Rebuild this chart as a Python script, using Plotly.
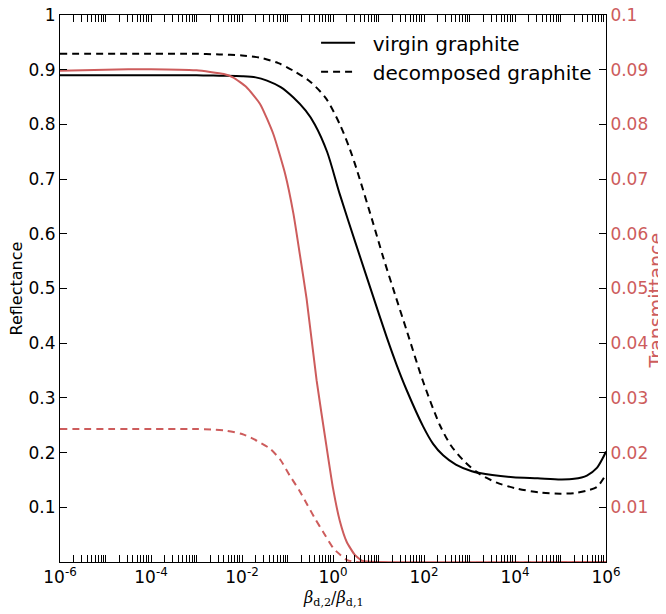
import plotly.graph_objects as go

# ---- data (log10 of beta_d2/beta_d1, values) ----
virgin_R_logx = [-6, -5, -4, -3, -2.5, -2, -1.7, -1.45, -1.15, -0.87, -0.6, -0.4, -0.13, 0.15, 0.5, 0.88,
                 1.18, 1.4, 1.62, 1.98, 2.2, 2.42, 2.7, 3.05, 3.5, 3.96, 4.5, 5.0, 5.3, 5.58, 5.8, 5.93, 6.0]
virgin_R = [0.890, 0.890, 0.890, 0.890, 0.889, 0.888, 0.886, 0.880, 0.868, 0.849, 0.825, 0.800, 0.750, 0.672,
            0.582, 0.486, 0.411, 0.360, 0.314, 0.248, 0.216, 0.195, 0.178, 0.166, 0.159, 0.155, 0.153, 0.151,
            0.152, 0.158, 0.172, 0.190, 0.202]

decomp_R_logx = [-6, -4, -3, -2.5, -2, -1.6, -1.2, -0.87, -0.5, -0.15, 0.15, 0.37, 0.52, 0.88, 1.1, 1.36,
                 1.62, 1.98, 2.35, 2.6, 2.9, 3.2, 3.6, 4.0, 4.55, 5.0, 5.3, 5.6, 5.8, 6.0]
decomp_R = [0.929, 0.929, 0.929, 0.928, 0.926, 0.922, 0.912, 0.898, 0.878, 0.847, 0.800, 0.755, 0.718, 0.620,
            0.558, 0.490, 0.423, 0.330, 0.250, 0.212, 0.183, 0.162, 0.145, 0.135, 0.127, 0.125, 0.126, 0.131,
            0.137, 0.160]

virgin_T_logx = [-6, -5, -4, -3, -2.7, -2.4, -2.2, -1.9, -1.6, -1.31, -1.05, -0.87, -0.73, -0.58, -0.36,
                 -0.15, 0.0, 0.15, 0.3, 0.48, 0.65, 1.0, 6.0]
virgin_T = [0.0898, 0.0900, 0.0901, 0.0899, 0.0896, 0.0892, 0.0886, 0.0868, 0.0837, 0.0782, 0.0709, 0.0637,
            0.0563, 0.0481, 0.0332, 0.0215, 0.0135, 0.0075, 0.0037, 0.0013, 0.0002, 0.0, 0.0]

decomp_T_logx = [-6, -3, -2.6, -2.34, -2.0, -1.75, -1.38, -1.15, -0.95, -0.75, -0.58, -0.4, -0.21, 0.0,
                 0.08, 0.3, 0.5, 6.0]
decomp_T = [0.0243, 0.0243, 0.0242, 0.0240, 0.0234, 0.0225, 0.0207, 0.0186, 0.0158, 0.0132, 0.0107, 0.0080,
            0.0054, 0.0026, 0.0019, 0.0004, 0.0, 0.0]

x_major_exp = [-6, -4, -2, 0, 2, 4, 6]
left_ticks = [0.1, 0.2, 0.3, 0.4, 0.5, 0.6, 0.7, 0.8, 0.9, 1.0]
left_labels = ["0.1", "0.2", "0.3", "0.4", "0.5", "0.6", "0.7", "0.8", "0.9", "1"]
right_ticks = [0.01, 0.02, 0.03, 0.04, 0.05, 0.06, 0.07, 0.08, 0.09, 0.1]
right_labels = ["0.01", "0.02", "0.03", "0.04", "0.05", "0.06", "0.07", "0.08", "0.09", "0.1"]

RED = "#cd5c5c"
FONT = "DejaVu Sans"
GAP = "\u00a0\u00a0"


def xs(logs):
    return [10 ** v for v in logs]


fig = go.Figure()
fig.add_trace(go.Scatter(x=xs(virgin_R_logx), y=virgin_R, mode="lines", name=GAP + "virgin graphite",
                         line=dict(color="black", width=2, shape="spline", smoothing=0.8)))
fig.add_trace(go.Scatter(x=xs(decomp_R_logx), y=decomp_R, mode="lines", name=GAP + "decomposed graphite",
                         line=dict(color="black", width=2, dash="7px,5px", shape="spline", smoothing=0.8)))
fig.add_trace(go.Scatter(x=xs(virgin_T_logx), y=virgin_T, mode="lines", yaxis="y2", showlegend=False,
                         line=dict(color=RED, width=2, shape="spline", smoothing=0.5)))
fig.add_trace(go.Scatter(x=xs(decomp_T_logx), y=decomp_T, mode="lines", yaxis="y2", showlegend=False,
                         line=dict(color=RED, width=2, dash="7px,5px", shape="spline", smoothing=0.6)))

minor_vals = [m * 10 ** e for e in range(-6, 6) for m in range(1, 10)
              if not (m == 1 and e % 2 == 0)]
major_vals = [10 ** e for e in x_major_exp]
major_text = ["10<sup>%d</sup>" % e for e in x_major_exp]

fig.update_layout(
    width=666, height=614,
    margin=dict(l=52, r=68, t=7, b=60, autoexpand=False),
    plot_bgcolor="white", paper_bgcolor="white",
    font=dict(family=FONT, size=17, color="black"),
    showlegend=True,
    legend=dict(x=0.469, y=0.985, xanchor="left", yanchor="top", bgcolor="rgba(0,0,0,0)",
                font=dict(size=20), tracegroupgap=0, itemwidth=34),
    xaxis=dict(type="log", range=[-6, 6], showgrid=False, zeroline=False, automargin=False,
               showline=True, linecolor="black", linewidth=1, mirror="allticks",
               ticks="inside", ticklen=7, tickcolor="black", ticklabeloverflow="allow",
               tickvals=major_vals, ticktext=major_text,
               minor=dict(ticks="inside", ticklen=4, tickcolor="black", tickvals=minor_vals)),
    yaxis=dict(range=[0, 1], showgrid=False, zeroline=False, showline=True, linecolor="black",
               linewidth=1, ticks="inside", ticklen=7, tickcolor="black", automargin=False,
               ticklabeloverflow="allow", tickvals=left_ticks, ticktext=left_labels),
    yaxis2=dict(range=[0, 0.1], overlaying="y", side="right", showgrid=False, zeroline=False,
                showline=True, linecolor="black", linewidth=1, ticks="inside", ticklen=7,
                tickcolor="black", tickvals=right_ticks, ticktext=right_labels, automargin=False,
                ticklabeloverflow="allow", tickfont=dict(color=RED)),
    annotations=[
        dict(text="<i>β</i><sub>d,2</sub>/<i>β</i><sub>d,1</sub>", xref="paper", yref="paper",
             x=0.5, y=-0.066, xanchor="center", yanchor="middle", showarrow=False,
             font=dict(family="DejaVu Serif", size=16)),
        dict(text="Reflectance", xref="paper", yref="paper", x=-0.0788, y=0.5,
             xanchor="center", yanchor="middle", textangle=-90, showarrow=False, font=dict(size=16)),
        dict(text="Transmittance", xref="paper", yref="paper", x=1.0925, y=0.477,
             xanchor="center", yanchor="middle", textangle=-90, showarrow=False,
             font=dict(size=19, color=RED)),
    ],
)

fig.write_html("out.html")
